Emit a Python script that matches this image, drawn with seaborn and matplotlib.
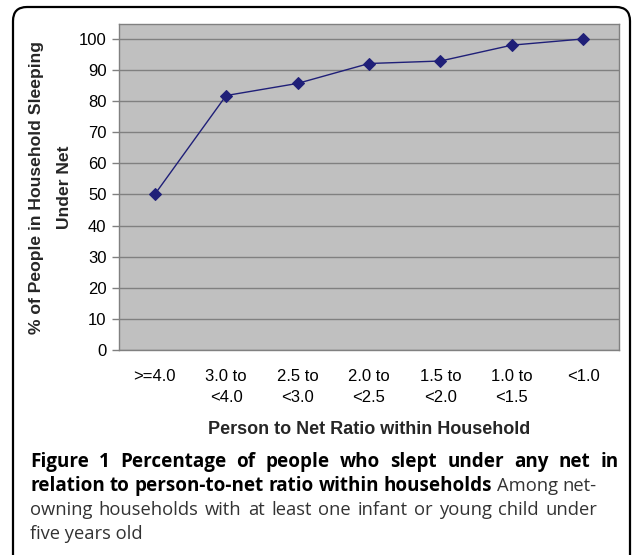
import matplotlib
matplotlib.use("Agg")
import matplotlib.pyplot as plt
import seaborn as sns
import pandas as pd
from matplotlib.patches import FancyBboxPatch
from matplotlib.transforms import IdentityTransform

# datos
ratio_labels = [">=4.0", "3.0 to\n<4.0", "2.5 to\n<3.0", "2.0 to\n<2.5",
                "1.5 to\n<2.0", "1.0 to\n<1.5", "<1.0"]
pct_under_net = [50.0, 81.8, 85.7, 92.1, 92.9, 98.0, 100.0]
y_ticks = list(range(0, 101, 10))

caption_bold_1 = "Figure 1 Percentage of people who slept under any net in"
caption_bold_2 = "relation to person-to-net ratio within households"
caption_norm_2 = "Among net-"
caption_norm_3 = "owning households with at least one infant or young child under"
caption_norm_4 = "five years old"

W, H = 632, 555

df = pd.DataFrame({"ratio": ratio_labels, "pct": pct_under_net})

sns.set_theme(style="white")
plt.rcParams["font.family"] = ["Liberation Sans", "DejaVu Sans"]

fig = plt.figure(figsize=(W / 100, H / 100), dpi=100)
ax = fig.add_axes([119 / W, 1 - 350 / H, (619 - 119) / W, (350 - 24) / H])
ax.set_facecolor("#C0C0C0")

sns.pointplot(data=df, x="ratio", y="pct", color="#1F1F78", markers="D",
              errorbar=None, ax=ax, markersize=6, linewidth=1.0)

ax.set_ylim(0, 104.8)
ax.set_xlim(-0.5, len(ratio_labels) - 0.5)
ax.set_yticks(y_ticks)
ax.yaxis.grid(True, color="#808080", linewidth=1)
ax.xaxis.grid(False)
ax.set_axisbelow(True)

# marcas del eje x entre categorias
ax.set_xticks([i - 0.5 for i in range(len(ratio_labels) + 1)], minor=True)
ax.tick_params(axis="x", which="minor", length=5, width=1, color="#808080", direction="out")
ax.tick_params(axis="x", which="major", length=0, pad=14, labelsize=12, labelcolor="black")
ax.tick_params(axis="y", which="major", length=5, width=1, color="#808080",
               direction="out", left=True, pad=4, labelsize=12, labelcolor="black")
for lbl in ax.get_xticklabels():
    lbl.set_linespacing(1.5)

for s in ax.spines.values():
    s.set_color("#808080")
    s.set_linewidth(1)

ax.set_xlabel("Person to Net Ratio within Household", fontsize=13,
              fontweight="bold", labelpad=11)
ax.set_ylabel("% of People in Household Sleeping\nUnder Net", fontsize=12.6,
              fontweight="bold", labelpad=5, linespacing=2.05)

# marco redondeado
frame = FancyBboxPatch((13, -40), 617, H - 7 + 40,
                       boxstyle="round,pad=0,rounding_size=14",
                       transform=IdentityTransform(), fill=False,
                       edgecolor="black", linewidth=1.6)
fig.patches.append(frame)

# pie de figura (texto justificado)
cap_font = ["Open Sans", "DejaVu Sans"]
bold_style = dict(fontsize=13.6, fontweight="bold", family=cap_font, color="black")
norm_style = dict(fontsize=13.2, family=cap_font, color="#333333")
renderer = fig.canvas.get_renderer()


def linea_justificada(words, x_left, x_right, y_base):
    texts = [fig.text(0, 1 - y_base / H, w, va="baseline", ha="left", **st)
             for w, st in words]
    widths = [t.get_window_extent(renderer).width for t in texts]
    gap = (x_right - x_left - sum(widths)) / max(len(texts) - 1, 1)
    x = x_left
    for t, w in zip(texts, widths):
        t.set_x(x / W)
        x += w + gap


x_cap = 30
linea_justificada([(w, bold_style) for w in caption_bold_1.split()], x_cap, 619, 467)
linea_justificada([(w, bold_style) for w in caption_bold_2.split()]
                  + [(w, norm_style) for w in caption_norm_2.split()], x_cap, 597, 491)
linea_justificada([(w, norm_style) for w in caption_norm_3.split()], x_cap, 597, 515)
fig.text(x_cap / W, 1 - 539 / H, caption_norm_4, va="baseline", ha="left", **norm_style)

fig.savefig("out.png", dpi=100)
